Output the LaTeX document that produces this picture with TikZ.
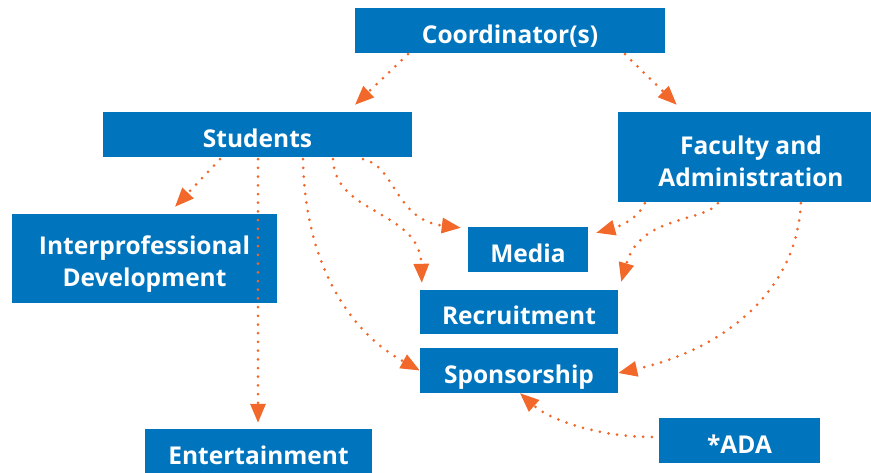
\documentclass[tikz,border=0pt]{standalone}
\usepackage{fontspec}
\setmainfont{Open Sans}
\usetikzlibrary{arrows.meta,calc}
\definecolor{boxblue}{RGB}{0,117,190}
\definecolor{arrorange}{RGB}{242,104,42}
\begin{document}
\begin{tikzpicture}[x=1pt,y=-1pt,
  box/.style={fill=boxblue,text=white,font=\bfseries\fontsize{24.5}{32}\selectfont,inner sep=0pt,align=center},
  oneline/.style={text height=25pt,text depth=0pt},
  conn/.style={draw=arrorange,line width=3pt,line cap=round,dash pattern=on 0pt off 8.7pt,
    -{Triangle[length=19pt,width=15pt]}}]
\useasboundingbox (0,0) rectangle (871,472);
\node[box,oneline,minimum width=310pt,minimum height=45pt] (coord) at (510,30.5) {Coordinator(s)};
\node[box,oneline,minimum width=309pt,minimum height=45pt] (students) at (257.5,134.5) {Students};
\node[box,minimum width=266pt,minimum height=90pt] (faculty) at (751,157) {\rule{0pt}{35pt}Faculty and\\Administration\rule[-8pt]{0pt}{0pt}};
\node[box,minimum width=265pt,minimum height=89pt] (interprof) at (144.5,258.5) {\rule{0pt}{30.5pt}Interprofessional\\Development};
\node[box,oneline,minimum width=120pt,minimum height=45pt] (media) at (528,249.5) {Media};
\node[box,oneline,minimum width=198pt,minimum height=44pt] (recruit) at (519,312) {Recruitment};
\node[box,oneline,minimum width=198pt,minimum height=45pt] (spons) at (519,370.5) {Sponsorship};
\node[box,oneline,minimum width=227pt,minimum height=45pt] (entertain) at (258.5,451.5) {Entertainment};
\node[box,oneline,minimum width=161pt,minimum height=45pt] (ada) at (739.5,440.5) {*ADA};
% connectors
\draw[conn] ($(coord.south)+(-102,1)$) -- ($(students.north)+(97.5,-7)$);
\draw[conn] ($(coord.south)+(115,1)$) -- ($(faculty.north west)+(59,-7)$);
\draw[conn] ($(students.south)+(-37.5,2)$) -- ($(interprof.north)+(30.5,-7)$);
\draw[conn] ($(students.south)+(0.5,2)$) -- ($(entertain.north)+(-0.5,-6)$);
\draw[conn] ($(students.south)+(45.5,2)$) .. controls +(2,106) and +(-70,-38.5) .. (spons.west);
\draw[conn] ($(students.south)+(75.5,2)$) .. controls +(2,56) and +(-2,-73) .. ($(recruit.north west)+(2,-7)$);
\draw[conn] ($(students.south)+(105.5,2)$) .. controls +(32,6) and +(-66,-8) .. ($(media.north west)+(-7,1)$);
\draw[conn] ($(faculty.south west)+(27,1)$) .. controls +(-5,12) and +(29,-8) .. ($(media.north east)+(8,6)$);
\draw[conn] ($(faculty.south west)+(100,1)$) .. controls +(-13,19) and +(19,-67) .. ($(recruit.north east)+(3,-8)$);
\draw[conn] ($(faculty.south west)+(183,1)$) .. controls +(-4,92) and +(100,-22) .. ($(spons.east)+(0,2.5)$);
\draw[conn] ($(ada.west)+(-7,-3.5)$) .. controls +(-52,0) and +(30,27) .. ($(spons.south)+(1,0)$);
\end{tikzpicture}
\end{document}
